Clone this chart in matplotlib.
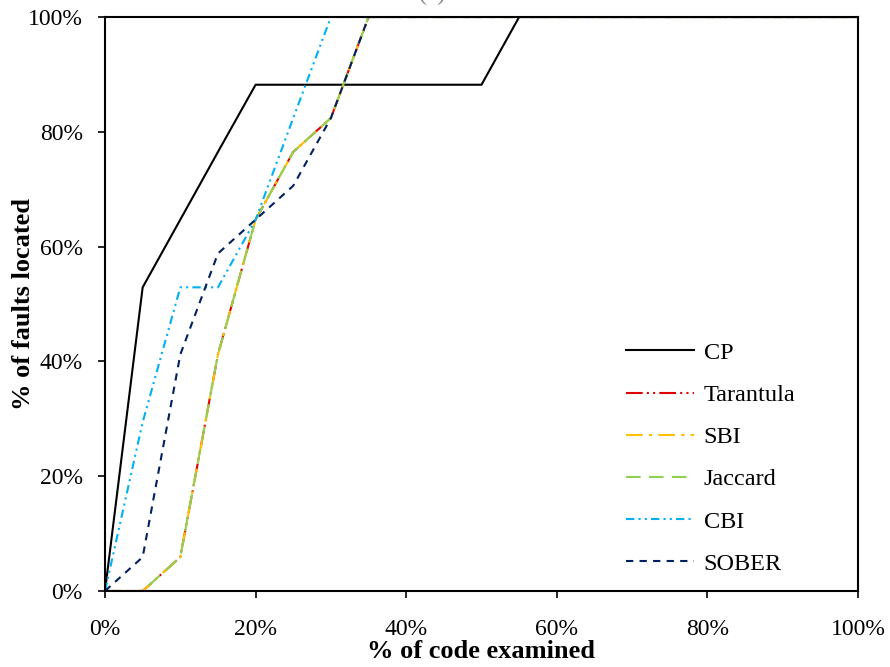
import matplotlib.pyplot as plt
from matplotlib.ticker import PercentFormatter

plt.rcParams['font.family'] = ['Liberation Serif', 'DejaVu Serif']

# % of code examined
x = [0, 5, 10, 15, 20, 25, 30, 35, 40, 45, 50, 55, 60, 65, 70, 75, 80, 85, 90, 95, 100]

# % of faults located (17 faults)
cp =        [0, 52.9, 64.7, 76.5, 88.2, 88.2, 88.2, 88.2, 88.2, 88.2, 88.2, 100, 100, 100, 100, 100, 100, 100, 100, 100, 100]
tarantula = [0, 0, 5.9, 41.2, 64.7, 76.5, 82.4, 100, 100, 100, 100, 100, 100, 100, 100, 100, 100, 100, 100, 100, 100]
sbi =       [0, 0, 5.9, 41.2, 64.7, 76.5, 82.4, 100, 100, 100, 100, 100, 100, 100, 100, 100, 100, 100, 100, 100, 100]
jaccard =   [0, 0, 5.9, 41.2, 64.7, 76.5, 82.4, 100, 100, 100, 100, 100, 100, 100, 100, 100, 100, 100, 100, 100, 100]
cbi =       [0, 29.4, 52.9, 52.9, 64.7, 82.4, 100, 100, 100, 100, 100, 100, 100, 100, 100, 100, 100, 100, 100, 100, 100]
sober =     [0, 5.9, 41.2, 58.8, 64.7, 70.6, 82.4, 100, 100, 100, 100, 100, 100, 100, 100, 100, 100, 100, 100, 100, 100]

fig = plt.figure(figsize=(8.9, 6.67), dpi=100)
ax = fig.add_axes([0.118, 0.114, 0.846, 0.8605])

lw = 1.5
ax.plot(x, cp, color='black', lw=lw, label='CP')
ax.plot(x, tarantula, color='#E00000', lw=lw, dashes=(8, 2, 1, 2, 1, 2), label='Tarantula')
ax.plot(x, sbi, color='#FFC000', lw=lw, dashes=(8, 3, 1.5, 3), label='SBI')
ax.plot(x, jaccard, color='#92D050', lw=lw, dashes=(7, 4), label='Jaccard')
ax.plot(x, cbi, color='#00B0F0', lw=lw, dashes=(4, 2, 1, 2, 1, 2), label='CBI')
ax.plot(x, sober, color='#002060', lw=lw, dashes=(3.5, 3), label='SOBER')

ax.set_xlim(0, 100)
ax.set_ylim(0, 100)
ax.set_xticks(range(0, 101, 20))
ax.set_yticks(range(0, 101, 20))
ax.xaxis.set_major_formatter(PercentFormatter(decimals=0))
ax.yaxis.set_major_formatter(PercentFormatter(decimals=0))
ax.tick_params(labelsize=17, direction='out', length=5, width=1.2)
ax.tick_params(axis='x', pad=15)
ax.tick_params(axis='y', pad=11)

for s in ax.spines.values():
    s.set_linewidth(1.5)

ax.set_xlabel('% of code examined', fontsize=19, fontweight='bold', labelpad=0)
ax.set_ylabel('% of faults located', fontsize=19, fontweight='bold', labelpad=-5)

ax.legend(loc='upper left', frameon=False, fontsize=17.5, handlelength=2.8,
          labelspacing=0.83, bbox_to_anchor=(0.692, 0.434), handletextpad=0.4,
          borderpad=0, borderaxespad=0)

fig.text(0.485, 1.008, '(a)', fontsize=17, color='gray', ha='center', va='center')

plt.savefig('out.png', dpi=100)
